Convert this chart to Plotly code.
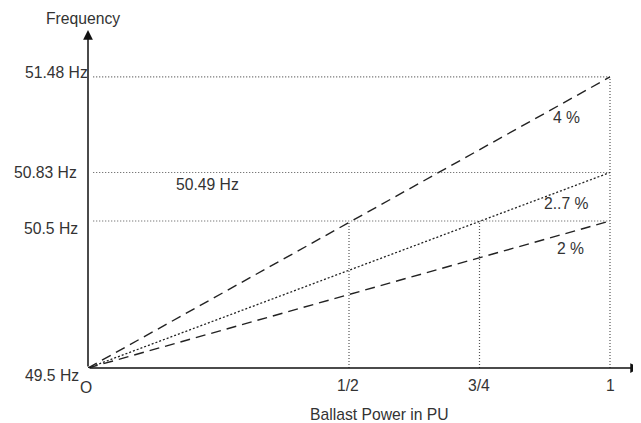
import plotly.graph_objects as go

# ---- data ----
power = [0, 1]
droop_labels = ["4 %", "2..7 %", "2 %"]
f_start = 49.5
f_end = [51.48, 50.83, 50.5]
ytick_vals = [51.48, 50.83, 50.5, 49.5]
ytick_text = ["51.48 Hz", "50.83 Hz", "50.5 Hz", "49.5 Hz"]
xtick_vals = [0.5, 0.75, 1]
xtick_text = ["1/2", "3/4", "1"]
note_text = "50.49 Hz"

# ---- layout mapping (page body has an 8px margin) ----
W, H = 633, 415
L, B = 80, 55
PX_X = 522.0
PX_Y = 147.0
XMAX = (W - L) / PX_X
YMAX = f_start + (H - B) / PX_Y
TXT = "#333333"
FONT = "Liberation Sans, Arial, sans-serif"
FS = 15.7

fig = go.Figure()

# dotted reference lines
grid = dict(color="#555555", width=1.2, dash="1px,2px")
for fv in f_end:
    fig.add_trace(go.Scatter(x=[0.01, 1], y=[fv, fv], mode="lines", line=grid,
                             hoverinfo="skip", showlegend=False))
vert_tops = [f_end[2], f_end[2], f_end[0]]
for xv, top in zip(xtick_vals, vert_tops):
    fig.add_trace(go.Scatter(x=[xv, xv], y=[f_start, top], mode="lines", line=grid,
                             hoverinfo="skip", showlegend=False))

# droop lines
styles = [dict(color="#222222", width=1.4, dash="10px,6px"),
          dict(color="#222222", width=1.3, dash="2px,2px"),
          dict(color="#222222", width=1.4, dash="10px,6px")]
for fe, st in zip(f_end, styles):
    fig.add_trace(go.Scatter(x=power, y=[f_start, fe], mode="lines", line=st,
                             hoverinfo="skip", showlegend=False))

ann = []
# axes with arrows
ann.append(dict(x=(W - 1 - L) / PX_X, y=f_start, ax=0, ay=f_start, xref="x", yref="y",
                axref="x", ayref="y", showarrow=True, arrowhead=2, arrowsize=1.3,
                arrowwidth=1.5, arrowcolor="#111111", text=""))
ann.append(dict(x=0, y=f_start + (H - B - 22) / PX_Y, ax=0, ay=f_start, xref="x", yref="y",
                axref="x", ayref="y", showarrow=True, arrowhead=2, arrowsize=1.3,
                arrowwidth=1.5, arrowcolor="#111111", text=""))

def font():
    return dict(size=FS, color=TXT, family=FONT)

# y tick labels
yoff = {51.48: (2, 4), 50.83: (-9, 0), 50.5: (-8, -7), 49.5: (-7, -7)}
for v, t in zip(ytick_vals, ytick_text):
    dx, dy = yoff[v]
    ann.append(dict(x=0, y=v, xref="x", yref="y", text=t, showarrow=False,
                    xanchor="right", yanchor="middle", xshift=dx, yshift=dy, font=font()))
# x tick labels
xoff = {0.5: -1, 0.75: -1, 1: 0}
for v, t in zip(xtick_vals, xtick_text):
    ann.append(dict(x=v, y=f_start, xref="x", yref="y", text=t, showarrow=False,
                    xanchor="center", yanchor="middle", xshift=xoff[v], yshift=-17,
                    font=font()))
# origin
ann.append(dict(x=0, y=f_start, xref="x", yref="y", text="O", showarrow=False,
                xanchor="center", yanchor="middle", xshift=-2, yshift=-19, font=font()))
# droop labels
lab_pos = [(0.9157, 51.207), (0.9157, 50.622), (0.9234, 50.316)]
for (lx, ly), t in zip(lab_pos, droop_labels):
    ann.append(dict(x=lx, y=ly, xref="x", yref="y", text=t, showarrow=False,
                    xanchor="center", yanchor="middle", font=font()))
ann.append(dict(x=0.228, y=50.745, xref="x", yref="y", text=note_text, showarrow=False,
                xanchor="center", yanchor="middle", font=font()))
# axis titles
ann.append(dict(x=0, y=1, xref="x", yref="paper", text="Frequency", showarrow=False,
                xanchor="center", yanchor="middle", xshift=-5, yshift=-10, font=font()))
ann.append(dict(x=0.5575, y=f_start, xref="x", yref="y", text="Ballast Power in PU",
                showarrow=False, xanchor="center", yanchor="middle", yshift=-46,
                font=font()))

fig.update_layout(
    width=W, height=H,
    margin=dict(l=L, r=0, t=0, b=B),
    paper_bgcolor="white", plot_bgcolor="white",
    xaxis=dict(range=[0, XMAX], visible=False, fixedrange=True),
    yaxis=dict(range=[f_start, YMAX], visible=False, fixedrange=True),
    annotations=ann,
    showlegend=False,
)
fig.write_html("out.html")
